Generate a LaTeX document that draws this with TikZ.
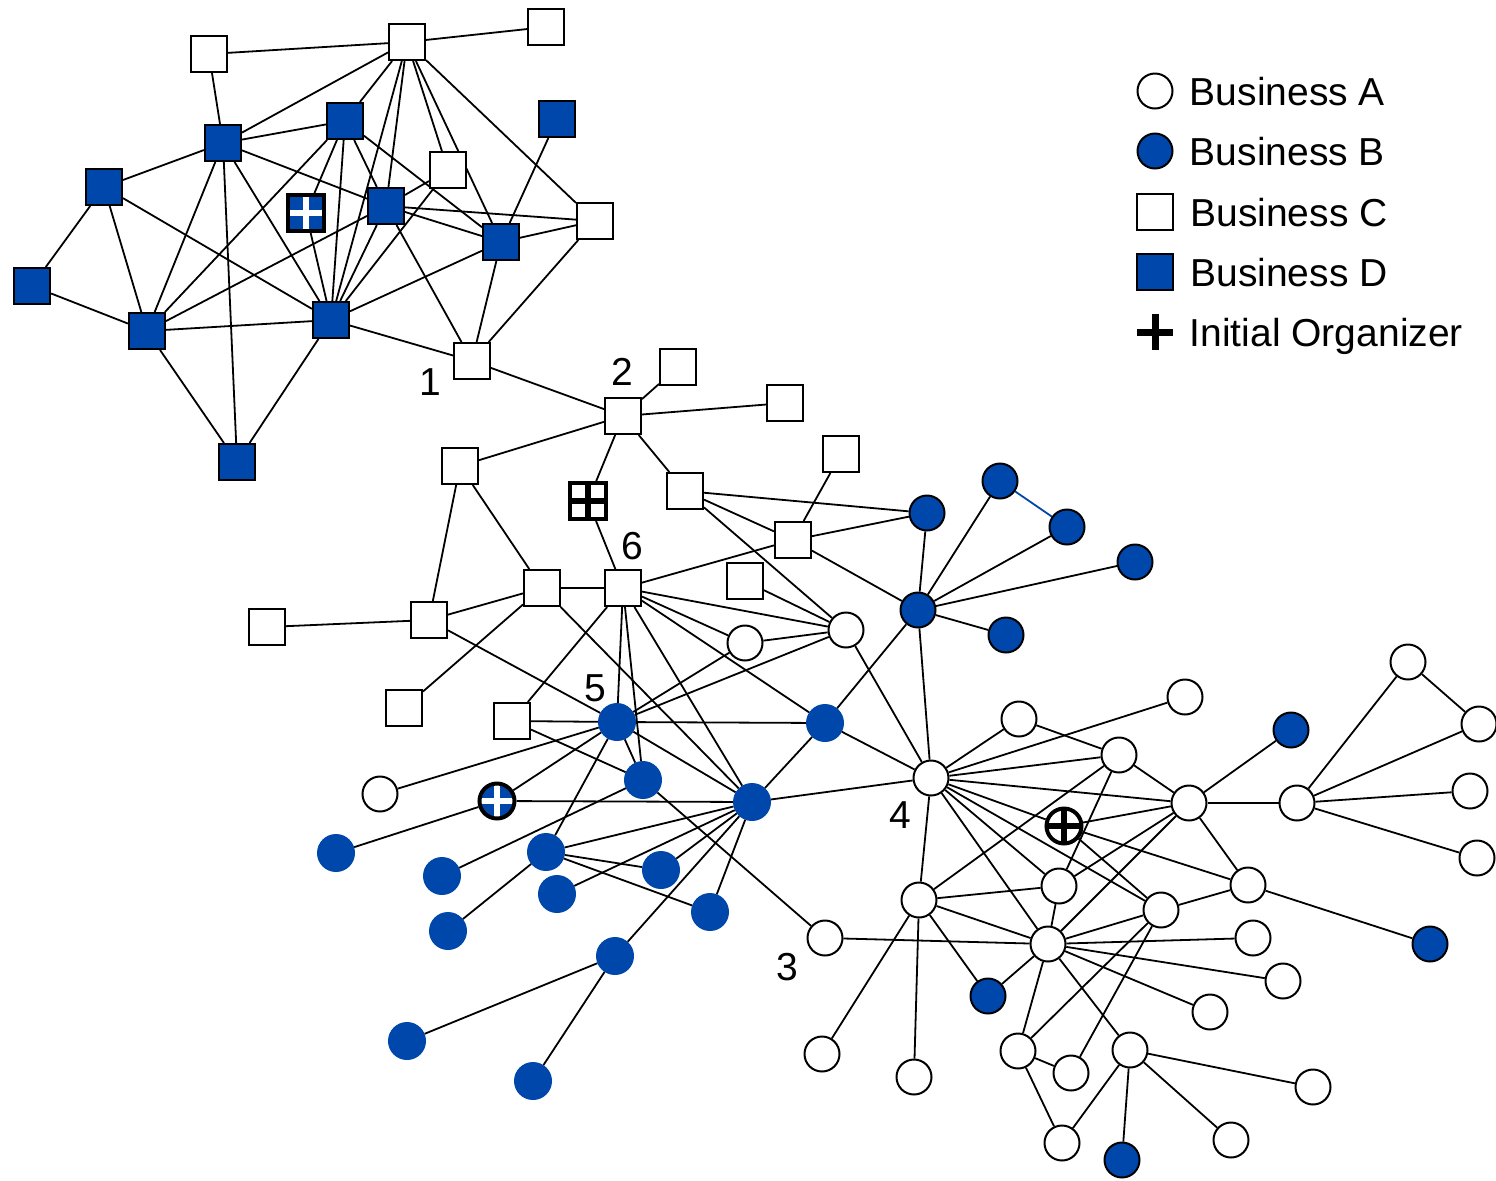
\documentclass[tikz,border=0pt]{standalone}
\usepackage{fontspec}
\setmainfont{Liberation Sans}
\usetikzlibrary{positioning}
\definecolor{bizblue}{RGB}{0,71,171}
\pgfdeclarelayer{edges}
\pgfsetlayers{edges,main}

\begin{document}
\begin{tikzpicture}[x=0.5pt, y=-0.5pt,
    base/.style={inner sep=0pt, line width=1pt, draw=black},
    typeA/.style={base, circle, fill=white, minimum size=17.5pt},
    typeB/.style={base, circle, fill=bizblue, minimum size=17.5pt},
    typeBp/.style={typeB, draw=bizblue, minimum size=18pt},
    typeC/.style={base, rectangle, fill=white, minimum size=18pt},
    typeD/.style={base, rectangle, fill=bizblue, minimum size=18pt},
    organizer/.style={line width=2pt, path picture={
        \draw[line width=3.2pt, #1] (path picture bounding box.north) -- (path picture bounding box.south)
            (path picture bounding box.west) -- (path picture bounding box.east);}},
    plusmark/.style={rectangle, inner sep=0pt, minimum size=18pt, path picture={
        \draw[line width=3.5pt] (path picture bounding box.north) -- (path picture bounding box.south)
            (path picture bounding box.west) -- (path picture bounding box.east);}},
    numlabel/.style={inner sep=0pt, font=\fontsize{19.5}{22}\selectfont},
    legendtext/.style={inner sep=0pt, text depth=0pt, font=\fontsize{19.5}{22}\selectfont},
    link/.style={line width=0.9pt, draw=black}]
    \useasboundingbox (0,0) rectangle (1496,1180);

    % top cluster
    \node[typeC] (c1) at (209,54) {};
    \node[typeC] (c2) at (407,42) {};
    \node[typeC] (c3) at (546,27) {};
    \node[typeD] (d1) at (223,143) {};
    \node[typeD] (d2) at (345,121) {};
    \node[typeD] (d3) at (557,119) {};
    \node[typeC] (c4) at (448,170) {};
    \node[typeD] (d4) at (104,187) {};
    \node[typeD, organizer=white] (dI) at (306,213) {};
    \node[typeD] (d5) at (386,206) {};
    \node[typeD] (d6) at (501,242) {};
    \node[typeC] (c5) at (595,221) {};
    \node[typeD] (d7) at (32,286) {};
    \node[typeD] (d8) at (147,331) {};
    \node[typeD] (d9) at (331,320) {};
    \node[typeC] (n1) at (472,361) {};
    \node[typeD] (d10) at (237,462) {};

    % middle squares
    \node[typeC] (n2) at (623,416) {};
    \node[typeC] (c7) at (678,367) {};
    \node[typeC] (c8) at (785,403) {};
    \node[typeC] (c9) at (460,466) {};
    \node[typeC, organizer=black] (cI) at (588,501) {};
    \node[typeC] (c10) at (685,491) {};
    \node[typeC] (c11) at (841,454) {};
    \node[typeC] (c12) at (793,540) {};
    \node[typeC] (n6) at (623,588) {};
    \node[typeC] (c13) at (542,588) {};
    \node[typeC] (c14) at (745,581) {};
    \node[typeC] (c15) at (429,620) {};
    \node[typeC] (c16) at (267,627) {};
    \node[typeC] (c17) at (404,708) {};
    \node[typeC] (c18) at (512,721) {};

    % blue circles
    \node[typeB] (b1) at (927,513) {};
    \node[typeB] (b2) at (918,610) {};
    \node[typeB] (b3) at (1000,481) {};
    \node[typeB] (b7) at (1067,527) {};
    \node[typeB] (b8) at (1135,562) {};
    \node[typeB] (b9) at (1006,635) {};
    \node[typeB] (b20) at (1291,730) {};
    \node[typeB] (b21) at (988,996) {};
    \node[typeB] (b22) at (1430,944) {};
    \node[typeB] (b23) at (1122,1160) {};
    \node[typeBp] (b4) at (825,723) {};
    \node[typeBp] (n5) at (617,722) {};
    \node[typeBp] (b6) at (643,780) {};
    \node[typeBp] (bH) at (752,802) {};
    \node[typeB, organizer=white] (bI) at (497,801) {};
    \node[typeBp] (b10) at (336,853) {};
    \node[typeBp] (b11) at (442,876) {};
    \node[typeBp] (b12) at (546,852) {};
    \node[typeBp] (b13) at (557,894) {};
    \node[typeBp] (b14) at (661,870) {};
    \node[typeBp] (b15) at (710,912) {};
    \node[typeBp] (b16) at (448,931) {};
    \node[typeBp] (b17) at (615,956) {};
    \node[typeBp] (b18) at (407,1041) {};
    \node[typeBp] (b19) at (533,1081) {};

    % white circles
    \node[typeA] (a1) at (846,630) {};
    \node[typeA] (a2) at (745,643) {};
    \node[typeA] (a3) at (380,794) {};
    \node[typeA] (n4) at (931,778) {};
    \node[typeA] (n3) at (825,938) {};
    \node[typeA] (a5) at (1019,719) {};
    \node[typeA] (a6) at (1185,697) {};
    \node[typeA] (a7) at (1119,755) {};
    \node[typeA] (a8) at (1189,803) {};
    \node[typeA, organizer=black] (aI) at (1064,826) {};
    \node[typeA] (a9) at (1059,886) {};
    \node[typeA] (a10) at (919,900) {};
    \node[typeA] (a11) at (1161,910) {};
    \node[typeA] (a12) at (1248,885) {};
    \node[typeA] (a13) at (1048,944) {};
    \node[typeA] (a14) at (1253,938) {};
    \node[typeA] (a15) at (1283,981) {};
    \node[typeA] (a16) at (1210,1012) {};
    \node[typeA] (a17) at (822,1054) {};
    \node[typeA] (a18) at (914,1077) {};
    \node[typeA] (a19) at (1018,1051) {};
    \node[typeA] (a20) at (1071,1073) {};
    \node[typeA] (a21) at (1130,1050) {};
    \node[typeA] (a22) at (1313,1087) {};
    \node[typeA] (a23) at (1062,1143) {};
    \node[typeA] (a24) at (1231,1140) {};
    \node[typeA] (a25) at (1297,803) {};
    \node[typeA] (a26) at (1408,662) {};
    \node[typeA] (a27) at (1479,724) {};
    \node[typeA] (a28) at (1470,791) {};
    \node[typeA] (a29) at (1477,858) {};

    % numbers
    \node[numlabel] (lab1) at (430,382) {1};
    \node[numlabel] (lab2) at (622,372) {2};
    \node[numlabel] (lab3) at (787,967) {3};
    \node[numlabel] (lab4) at (900,815) {4};
    \node[numlabel] (lab5) at (595,688) {5};
    \node[numlabel] (lab6) at (632,546) {6};

    % legend
    \node[typeA] (lgA) at (1155,91) {};
    \node[typeB] (lgB) at (1155,151) {};
    \node[typeC] (lgC) at (1155,212) {};
    \node[typeD] (lgD) at (1155,272) {};
    \node[plusmark] (lgE) at (1155,332) {};
    \node[legendtext, right=8pt of lgA] (txtA) {Business A};
    \node[legendtext, right=8pt of lgB] (txtB) {Business B};
    \node[legendtext, right=8pt of lgC] (txtC) {Business C};
    \node[legendtext, right=8pt of lgD] (txtD) {Business D};
    \node[legendtext, right=8pt of lgE] (txtE) {Initial Organizer};

    \begin{pgfonlayer}{edges}
    \begin{scope}[link]
    % top cluster
    \draw (c2) edge (c1) edge (c3) edge (d1) edge (d2) edge (d5) edge (d9) edge (c4) edge (d6) edge (c5);
    \draw (d1) edge (c1) edge (d2) edge (d4) edge (d5) edge (d8) edge (d9) edge (d10);
    \draw (d2) edge (d8) edge (dI) edge (d9) edge (d5) edge (d6);
    \draw (d4) edge (d7) edge (d8) edge (d9);
    \draw (d8) edge (d7) edge (d5) edge (d9) edge (d10);
    \draw (d9) edge (dI) edge (d5) edge (c4) edge (d6) edge (n1) edge (d10);
    \draw (d5) edge (c4) edge (c5) edge (d6) edge (n1);
    \draw (d6) edge (d3) edge (c5) edge (n1);
    \draw (n1) edge (c5) edge (n2);
    % middle
    \draw (n2) edge (c7) edge (c8) edge (c9) edge (cI) edge (c10);
    \draw (cI) -- (n6);
    \draw (c9) edge (c15) edge (c13);
    \draw (c13) edge (n6) edge (c15) edge (c17) edge (bH);
    \draw (c15) edge (c16) edge (n5);
    \draw (n6) edge (c12) edge (a1) edge (a2) edge (b4) edge (bH) edge (n5) edge (b6) edge (c18);
    \draw (c10) edge (b1) edge (c12) edge (a1);
    \draw (c12) edge (c11) edge (b1) edge (b2);
    \draw (c14) -- (a1);
    \draw (a1) edge (a2) edge (n4) edge (n5);
    \draw (a2) -- (n5);
    \draw (c18) edge (n5) edge (b6);
    % blue star
    \draw (b2) edge (b1) edge (b3) edge (b7) edge (b8) edge (b9) edge (b4) edge (n4);
    \draw[bizblue] (b3) -- (b7);
    % lower left
    \draw (n5) edge (a3) edge (bI) edge (b12) edge (b6) edge (bH) edge (b4);
    \draw (bI) edge (bH) edge (b10);
    \draw (b6) edge (b11) edge (n3);
    \draw (bH) edge (b4) edge (n4) edge (b12) edge (b13) edge (b14) edge (b17) edge (b15);
    \draw (b12) edge (b14) edge (b15) edge (b16);
    \draw (b17) edge (b18) edge (b19);
    % lower right
    \draw (n4) edge (a5) edge (a6) edge (a7) edge (a8) edge (aI) edge (a11) edge (a9) edge (a13) edge (a10) edge (b4);
    \draw (a7) edge (a5) edge (a8) edge (a10) edge (a9);
    \draw (a8) edge (b20) edge (a25) edge (a12) edge (aI) edge (a9) edge (a13);
    \draw (aI) edge (a12) edge (a11);
    \draw (a10) edge (a9) edge (a13) edge (b21) edge (a17) edge (a18);
    \draw (n3) -- (a13);
    \draw (a9) -- (a13);
    \draw (a13) edge (b21) edge (a11) edge (a14) edge (a15) edge (a16) edge (a21) edge (a19);
    \draw (a11) edge (a12) edge (a19) edge (a20);
    \draw (a12) -- (b22);
    \draw (a19) edge (a20) edge (a23);
    \draw (a21) edge (a23) edge (b23) edge (a22) edge (a24);
    \draw (a25) edge (a26) edge (a27) edge (a28) edge (a29);
    \draw (a26) -- (a27);
    \end{scope}
    \end{pgfonlayer}
\end{tikzpicture}
\end{document}
